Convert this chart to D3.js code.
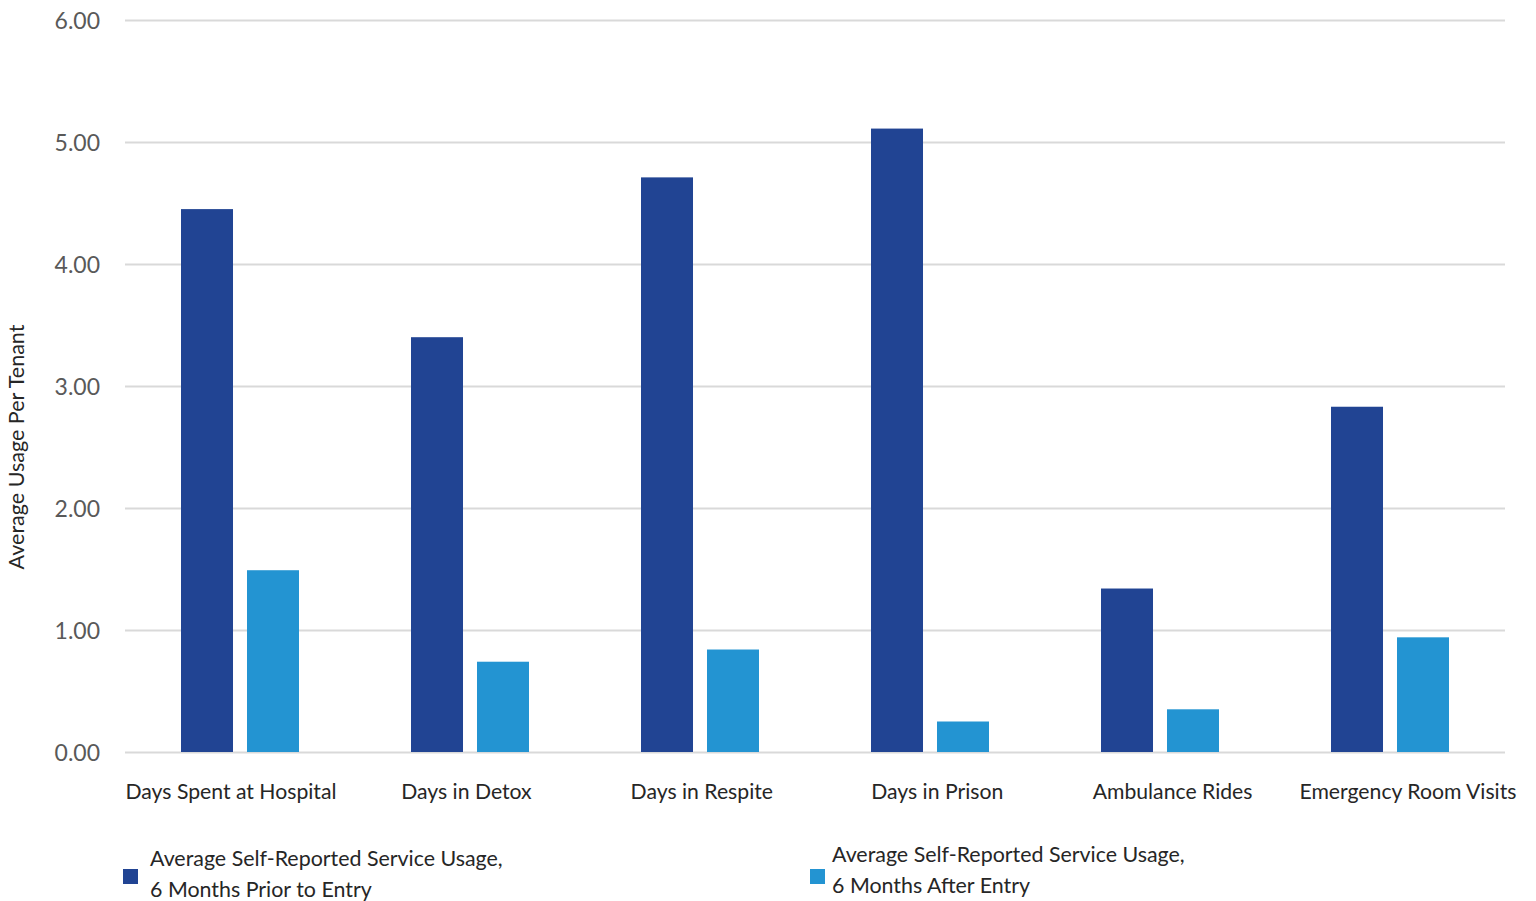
<!DOCTYPE html>
<html>
<head>
<meta charset="utf-8">
<script src="https://cdn.jsdelivr.net/npm/d3@7"></script>
<style>
  body { margin: 0; background: #fff; }
  text { font-family: Lato, "Noto Sans", sans-serif; }
</style>
</head>
<body>
<div id="main"></div>
<script>
const categories = ["Days Spent at Hospital", "Days in Detox", "Days in Respite",
    "Days in Prison", "Ambulance Rides", "Emergency Room Visits"];
const priorValues = [4.45, 3.40, 4.71, 5.11, 1.34, 2.83];
const afterValues = [1.49, 0.74, 0.84, 0.25, 0.35, 0.94];
const seriesNames = [
    ["Average Self-Reported Service Usage,", "6 Months Prior to Entry"],
    ["Average Self-Reported Service Usage,", "6 Months After Entry"]
];
const yTicks = [0, 1, 2, 3, 4, 5, 6];

const ctx = {
    w: 1536,
    h: 901,
    left: 125,
    right: 1505,
    top: 20,
    bottom: 752,
    DARK: "#214493",
    LIGHT: "#2394d2",
    GRID: "#d9d9d9",
};

function createViz(){
    let svg = d3.select("#main").append("svg")
        .attr("width", ctx.w)
        .attr("height", ctx.h);

    let x = d3.scaleBand().domain(categories).range([ctx.left, ctx.right]);
    let inner = d3.scaleBand().domain([0, 1])
        .range([56, x.bandwidth() - 56]).paddingInner(0.212);
    let y = d3.scaleLinear().domain([0, 6]).range([ctx.bottom, ctx.top]);
    // Excel spreads the category labels a bit wider than the bands
    let xLabel = d3.scalePoint().domain(categories).range([231, 1408]);

    // grid + y ticks
    let yAxis = d3.axisLeft(y).tickValues(yTicks)
        .tickFormat(d3.format(".2f"))
        .tickSize(-(ctx.right - ctx.left)).tickPadding(25);
    let ga = svg.append("g").attr("transform", `translate(${ctx.left},0)`).call(yAxis);
    ga.select(".domain").remove();
    ga.selectAll(".tick line").attr("stroke", ctx.GRID).attr("stroke-width", 2);
    ga.selectAll(".tick text").attr("fill", "#595959")
        .style("font-size", "23px").attr("dy", "0.35em");

    // bars
    let series = [priorValues, afterValues];
    let colors = [ctx.DARK, ctx.LIGHT];
    series.forEach(function(vals, si){
        svg.append("g").selectAll("rect")
            .data(vals)
            .enter()
            .append("rect")
            .attr("x", (d, i) => x(categories[i]) + inner(si))
            .attr("width", inner.bandwidth())
            .attr("y", d => y(d))
            .attr("height", d => y(0) - y(d))
            .attr("fill", colors[si]);
    });

    // category labels
    svg.append("g").selectAll("text")
        .data(categories)
        .enter()
        .append("text")
        .attr("x", d => xLabel(d))
        .attr("y", 799)
        .attr("text-anchor", "middle")
        .attr("fill", "#262626")
        .style("font-size", "21.2px")
        .text(d => d);

    // y title
    svg.append("text")
        .attr("transform", "translate(24,447) rotate(-90)")
        .attr("text-anchor", "middle")
        .attr("fill", "#262626")
        .style("font-size", "21.5px")
        .text("Average Usage Per Tenant");

    // legend
    let legendPos = [[123, 869, 150, 866], [810, 869, 832, 862]];
    seriesNames.forEach(function(lines, si){
        let p = legendPos[si];
        let g = svg.append("g");
        g.append("rect").attr("x", p[0]).attr("y", p[1])
            .attr("width", 15).attr("height", 15).attr("fill", colors[si]);
        g.selectAll("text").data(lines).enter().append("text")
            .attr("x", p[2])
            .attr("y", (d, i) => p[3] + i * 31)
            .attr("fill", "#262626")
            .style("font-size", "21.4px")
            .text(d => d);
    });
}

createViz();
</script>
</body>
</html>
